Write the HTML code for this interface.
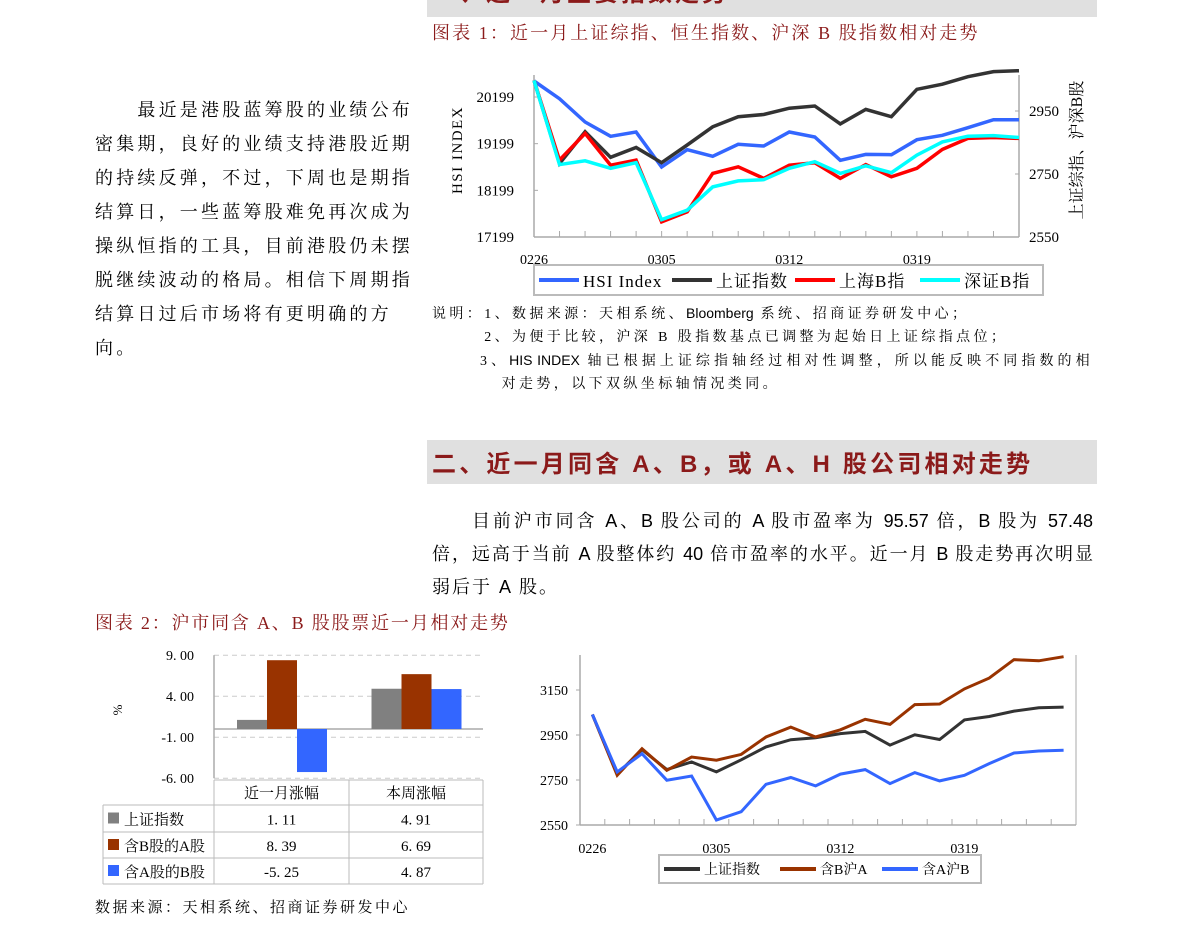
<!DOCTYPE html>
<html><head><meta charset="utf-8">
<style>
body{margin:0;width:1190px;height:935px;background:#fff;position:relative;overflow:hidden;font-family:"Liberation Serif","Noto Serif CJK SC",serif;}
.a{position:absolute;white-space:nowrap;}
.red{color:#8b1a1a;}
.para{font-size:18px;letter-spacing:3.2px;line-height:34px;color:#000;}
.note{font-size:14px;line-height:23px;color:#000;letter-spacing:3.4px;}
.j{text-align:justify;text-align-last:justify;}
svg text{font-family:"Liberation Serif","Noto Serif CJK SC",serif;}
</style></head><body>
<div class="a" style="left:427px;top:-24px;width:670px;height:41px;background:#e0e0e0;"></div>
<div class="a red" style="left:432px;top:-27px;font-size:24px;font-weight:bold;letter-spacing:3px;font-family:'Liberation Sans','Noto Sans CJK SC',sans-serif;">一、近一月主要指数走势</div>
<div class="a red" style="left:432px;top:19px;font-size:18px;letter-spacing:2.1px;">图表 1：近一月上证综指、恒生指数、沪深 B 股指数相对走势</div>

<div class="a para" style="left:95px;top:93px;">
<div>　　最近是港股蓝筹股的业绩公布</div><div>密集期，良好的业绩支持港股近期</div><div>的持续反弹，不过，下周也是期指</div><div>结算日，一些蓝筹股难免再次成为</div><div>操纵恒指的工具，目前港股仍未摆</div><div>脱继续波动的格局。相信下周期指</div><div>结算日过后市场将有更明确的方</div><div>向。</div></div>

<div class="a note" style="left:432px;top:302px;">
<div>说明：1、数据来源：天相系统、<span style="font-family:'Liberation Sans',sans-serif;letter-spacing:0">Bloomberg</span> 系统、招商证券研发中心；</div>
<div>　　　2、为便于比较，沪深 B 股指数基点已调整为起始日上证综指点位；</div>
<div style="position:relative;left:48px;width:613px;white-space:normal;" class="j">3、<span style="font-family:'Liberation Sans',sans-serif;letter-spacing:0">HIS INDEX</span> 轴已根据上证综指轴经过相对性调整，所以能反映不同指数的相</div>
<div>　　　　对走势，以下双纵坐标轴情况类同。</div></div>

<div class="a" style="left:427px;top:440px;width:670px;height:44px;background:#e0e0e0;"></div>
<div class="a red" style="left:432px;top:444px;font-size:24px;font-weight:bold;letter-spacing:3.2px;font-family:'Liberation Sans','Noto Sans CJK SC',sans-serif;">二、近一月同含 A、B，或 A、H 股公司相对走势</div>

<div class="a" style="left:432px;top:505px;width:661px;font-size:18px;line-height:33px;white-space:normal;font-family:'Liberation Sans','Noto Serif CJK SC',serif;">
<div class="j" style="padding-left:40px;">目前沪市同含 A、B 股公司的 A 股市盈率为 95.57 倍，B 股为 57.48</div>
<div class="j">倍，远高于当前 A 股整体约 40 倍市盈率的水平。近一月 B 股走势再次明显</div>
<div style="letter-spacing:2px;">弱后于 A 股。</div></div>

<div class="a red" style="left:95px;top:609px;font-size:18px;letter-spacing:1.8px;">图表 2：沪市同含 A、B 股股票近一月相对走势</div>
<div class="a" style="left:95px;top:896px;font-size:15px;letter-spacing:2.5px;">数据来源：天相系统、招商证券研发中心</div>

<svg id="svg" class="a" style="left:0;top:0" width="1190" height="935"></svg>

<script>
// ---- Chart 1 data ----
const c1Dates = ["0226","0227","0228","0301","0302","0305","0306","0307","0308","0309","0312","0313","0314","0315","0316","0319","0320","0321","0322","0323"];
const c1Labels = ["0226","0305","0312","0319"];
const c1LeftTicks = [17199,18199,19199,20199];
const c1RightTicks = [2550,2750,2950];
const hsi = [20542,20163,19663,19356,19449,18699,19070,18928,19185,19149,19449,19342,18842,18970,18963,19285,19378,19542,19713,19713];
const shIndex1 = [3047,2783,2884,2803,2834,2786,2842,2900,2932,2939,2959,2966,2909,2955,2932,3019,3035,3059,3075,3078];
const shB = [3047,2794,2879,2778,2794,2598,2630,2752,2773,2736,2778,2786,2736,2780,2741,2768,2828,2863,2866,2863];
const szB = [3047,2780,2792,2768,2786,2605,2635,2709,2728,2732,2768,2789,2752,2776,2754,2810,2852,2870,2872,2866];
// ---- Chart 2 data ----
const c2Dates = c1Dates;
const c2Labels = ["0226","0305","0312","0319"];
const c2Ticks = [2550,2750,2950,3150];
const shIndex2 = [3041,2776,2885,2796,2830,2786,2840,2897,2929,2938,2956,2966,2905,2951,2930,3017,3032,3056,3071,3074];
const abA = [3041,2771,2889,2793,2852,2838,2864,2941,2985,2941,2973,3020,2997,3085,3088,3155,3203,3285,3280,3298];
const abB = [3041,2786,2867,2749,2768,2572,2609,2731,2761,2724,2776,2796,2734,2783,2746,2771,2823,2870,2879,2882];
// ---- Bar chart data ----
const barCats = ["近一月涨幅","本周涨幅"];
const barSeries = ["上证指数","含B股的A股","含A股的B股"];
const barVals = [[1.11,8.39,-5.25],[4.91,6.69,4.87]];
const barTicks = [9,4,-1,-6];

const NS="http://www.w3.org/2000/svg";
const svg=document.getElementById('svg');
function mk(tag,attrs,name,parent){const e=document.createElementNS(NS,tag);for(const k in attrs)e.setAttribute(k,attrs[k]);


(parent||svg).appendChild(e);return e;}
function txt(x,y,s,size,anchor,name,extra){const t=mk('text',Object.assign({x:x,y:y,'font-size':size,'text-anchor':anchor||'start',fill:'#000'},extra||{}),name);t.textContent=s;return t;}
function path(xs,ys){return xs.map((x,i)=>(i?'L':'M')+x.toFixed(1)+','+ys[i].toFixed(1)).join('');}

// ===== Chart 1 =====
const L1=534,R1=1019,T1=75,B1=237;
const x1=i=>L1+i*(R1-L1)/(c1Dates.length-1);
const yL=v=>B1-(v-17199)*(140/3000);
const yR=v=>B1-(v-2550)*(126/400);
mk('line',{x1:L1,y1:T1,x2:L1,y2:B1,stroke:'#aaa','stroke-width':1.5},'c1-left-axis');
mk('line',{x1:R1,y1:T1,x2:R1,y2:B1,stroke:'#aaa','stroke-width':1.5},'c1-right-axis');
mk('line',{x1:L1,y1:B1,x2:R1,y2:B1,stroke:'#aaa','stroke-width':1.5},'c1-x-axis');
c1Dates.forEach((d,i)=>mk('line',{x1:x1(i),y1:B1,x2:x1(i),y2:B1-6,stroke:'#aaa'},'c1-x-tick'));
c1LeftTicks.forEach(v=>{mk('line',{x1:L1,y1:yL(v),x2:L1+4,y2:yL(v),stroke:'#aaa'},'c1-left-tick');txt(L1-20,yL(v)+5,String(v),15,'end','c1-left-tick-label');});
c1RightTicks.forEach(v=>{mk('line',{x1:R1,y1:yR(v),x2:R1-4,y2:yR(v),stroke:'#aaa'},'c1-right-tick');txt(R1+10,yR(v)+5,String(v),15,'start','c1-right-tick-label');});
c1Labels.forEach(l=>{const i=c1Dates.indexOf(l);txt(x1(i),B1+27,l,14,'middle','c1-x-label');});
txt(0,0,'HSI  INDEX',15,'middle','c1-left-axis-title',{transform:'translate(462,150) rotate(-90)','letter-spacing':'1.5'});
txt(0,0,'上证综指、沪深B股',16,'middle','c1-right-axis-title',{transform:'translate(1082,150) rotate(-90)'});
mk('path',{d:path(c1Dates.map((d,i)=>x1(i)),hsi.map(yL)),fill:'none',stroke:'#3366ff','stroke-width':3.5},'c1-hsi-line');
mk('path',{d:path(c1Dates.map((d,i)=>x1(i)),shIndex1.map(yR)),fill:'none',stroke:'#333','stroke-width':3.5},'c1-shanghai-line');
mk('path',{d:path(c1Dates.map((d,i)=>x1(i)),shB.map(yR)),fill:'none',stroke:'#ff0000','stroke-width':3.5},'c1-shanghai-b-line');
mk('path',{d:path(c1Dates.map((d,i)=>x1(i)),szB.map(yR)),fill:'none',stroke:'#00ffff','stroke-width':3.5},'c1-shenzhen-b-line');
mk('rect',{x:534,y:265,width:509,height:30,fill:'#fff',stroke:'#bbb','stroke-width':2},'c1-legend');
[['HSI  Index','#3366ff',539],['上证指数','#333',672],['上海B指','#ff0000',795],['深证B指','#00ffff',920]].forEach(e=>{
mk('line',{x1:e[2],y1:280,x2:e[2]+40,y2:280,stroke:e[1],'stroke-width':4},'c1-legend-swatch');
txt(e[2]+44,287,e[0],17,'start','c1-legend-entry',{'letter-spacing':'1'});});

// ===== Chart 2 =====
const L2=580,R2=1076,T2=655,B2=825;
const cw=(R2-L2)/c2Dates.length;
const x2=i=>L2+cw*(i+0.5);
const y2=v=>B2-(v-2550)*(135/600);
mk('line',{x1:L2,y1:T2,x2:L2,y2:B2,stroke:'#aaa','stroke-width':1.5},'c2-y-axis');
mk('line',{x1:L2,y1:B2,x2:R2,y2:B2,stroke:'#aaa','stroke-width':1.5},'c2-x-axis');
for(let i=1;i<=c2Dates.length;i++)mk('line',{x1:L2+cw*i,y1:B2,x2:L2+cw*i,y2:B2-6,stroke:'#aaa'},'c2-x-tick');
mk('line',{x1:R2,y1:T2,x2:R2,y2:B2,stroke:'#aaa'},'c2-right-edge');
c2Ticks.forEach(v=>{mk('line',{x1:L2-4,y1:y2(v),x2:L2,y2:y2(v),stroke:'#aaa'},'c2-y-tick');txt(L2-12,y2(v)+5,String(v),14,'end','c2-y-tick-label');});
c2Labels.forEach(l=>{const i=c2Dates.indexOf(l);txt(x2(i),B2+28,l,14,'middle','c2-x-label');});
mk('path',{d:path(c2Dates.map((d,i)=>x2(i)),shIndex2.map(y2)),fill:'none',stroke:'#333','stroke-width':3},'c2-shanghai-line');
mk('path',{d:path(c2Dates.map((d,i)=>x2(i)),abA.map(y2)),fill:'none',stroke:'#993300','stroke-width':3},'c2-ab-a-line');
mk('path',{d:path(c2Dates.map((d,i)=>x2(i)),abB.map(y2)),fill:'none',stroke:'#3366ff','stroke-width':3},'c2-ab-b-line');
mk('rect',{x:659,y:855,width:322,height:28,fill:'#fff',stroke:'#bbb','stroke-width':2},'c2-legend');
[['上证指数','#333',664],['含B沪A','#993300',780],['含A沪B','#3366ff',882]].forEach(e=>{
mk('line',{x1:e[2],y1:869,x2:e[2]+36,y2:869,stroke:e[1],'stroke-width':4},'c2-legend-swatch');
txt(e[2]+40,874,e[0],14,'start','c2-legend-entry');});

// ===== Bar chart =====
const BL=214,BR=483,zero=729;
const yb=v=>zero-v*8.2;
const barColors=['#808080','#993300','#3366ff'];
const fmt=v=>v.toFixed(2).replace('.', '. ');
barTicks.forEach(v=>{mk('line',{x1:BL,y1:yb(v),x2:BR,y2:yb(v),stroke:'#ccc','stroke-dasharray':'5,4'},'bar-gridline');
txt(BL-20,yb(v)+5,fmt(v),14,'end','bar-y-tick-label');});
mk('line',{x1:BL,y1:yb(9),x2:BL,y2:yb(-6),stroke:'#aaa','stroke-width':1.5},'bar-y-axis');
mk('line',{x1:BL,y1:zero,x2:BR,y2:zero,stroke:'#aaa','stroke-width':1.5},'bar-zero-line');
txt(0,0,'%',13,'middle','bar-y-axis-title',{transform:'translate(122,710) rotate(-90)'});
const catW=(BR-BL)/barCats.length;
barCats.forEach((c,ci)=>barSeries.forEach((s,si)=>{const v=barVals[ci][si];
const x=BL+ci*catW+23+si*30;
mk('rect',{x:x,y:Math.min(yb(v),zero),width:30,height:Math.abs(yb(v)-zero),fill:barColors[si]},'bar-'+ci+'-'+si);}));
// table
const colX=[103,214,349,483],rowY=[780,805,832,858,884];
mk('line',{x1:214,y1:780,x2:483,y2:780,stroke:'#bbb'},'table-line');
for(let r=1;r<rowY.length;r++)mk('line',{x1:103,y1:rowY[r],x2:483,y2:rowY[r],stroke:'#bbb'},'table-line');
colX.forEach((x,i)=>mk('line',{x1:x,y1:i==0?805:780,x2:x,y2:884,stroke:'#bbb'},'table-line'));
barCats.forEach((c,ci)=>txt((colX[ci+1]+colX[ci+2])/2,798,c,15,'middle','table-header'));
barSeries.forEach((s,si)=>{const yc=(rowY[si+1]+rowY[si+2])/2;
mk('rect',{x:108,y:yc-6,width:11,height:11,fill:barColors[si]},'table-legend-swatch');
txt(124,yc+6,s,15,'start','table-series-label');
barCats.forEach((c,ci)=>txt((colX[ci+1]+colX[ci+2])/2,yc+6,fmt(barVals[ci][si]),15,'middle','table-value'));});
</script>
</body></html>
